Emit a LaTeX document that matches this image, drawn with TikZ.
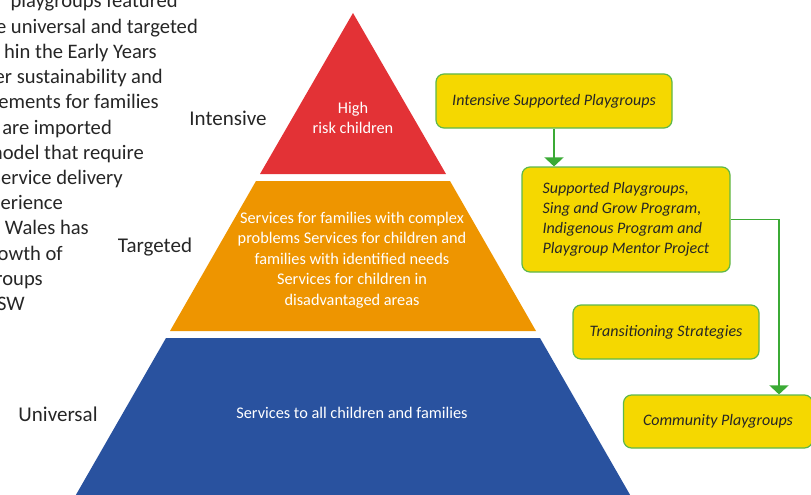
\documentclass[tikz,border=0pt]{standalone}
\usepackage{fontspec}
\setmainfont{Carlito}
\usetikzlibrary{arrows.meta}
\definecolor{pyrred}{HTML}{E33236}
\definecolor{pyrorange}{HTML}{EE9500}
\definecolor{pyrblue}{HTML}{29529F}
\definecolor{boxyellow}{HTML}{F5D800}
\definecolor{boxgreen}{HTML}{5DB84A}
\definecolor{arrowgreen}{HTML}{3BAA35}
\tikzset{
  sidelabel/.style={font=\fontsize{21}{25}\selectfont, text=black!85},
  introline/.style={anchor=base east, inner sep=0pt, font=\fontsize{20.6}{25}\selectfont, text=black!85},
  tiertext/.style={text=white, align=center, font=\fontsize{16.3}{20.5}\selectfont},
  pbox/.style={draw=boxgreen, line width=1.2pt, fill=boxyellow, rounded corners=8pt,
    font=\fontsize{16}{20}\selectfont\itshape, text=black!85},
  flow/.style={draw=arrowgreen, line width=1.4pt, -{Triangle[width=19pt,length=9pt]}}
}
\begin{document}
\begin{tikzpicture}[x=1pt,y=-1pt]
\useasboundingbox (0,0) rectangle (811,495);
\clip (0,0) rectangle (811,495);

% text running in from the left
\foreach \xend/\words [count=\i] in {178/playgroups featured, 198/e universal and targeted,
  157/hin the Early Years, 163/er sustainability and, 159/ements for families,
  112/are imported, 144/model that require, 123/service delivery, 63/perience,
  89/Wales has, 63/owth of, 43/roups, 25/SW}
  \node[introline] (intro\i) at (\xend,{8+25.2*(\i-1)}) {\words};

% pyramid
\fill[pyrred] (353,13) -- (260,174) -- (446,174) -- cycle;
\fill[pyrorange] (256,181) -- (450,181) -- (536,331) -- (170,331) -- cycle;
\fill[pyrblue] (166,338) -- (540,338) -- (633,500) -- (73,500) -- cycle;

\node[tiertext] (high) at (353,118) {High\\risk children};
\node[tiertext] (targ) at (352,260) {Services for families with complex\\problems Services for children and\\families with identified needs\\Services for children in\\disadvantaged areas};
\node[tiertext] (univ) at (352,413) {Services to all children and families};

\node[sidelabel] (intensive) at (228,118) {Intensive};
\node[sidelabel] (targeted) at (155,247) {Targeted};
\node[sidelabel] (universal) at (58,414) {Universal};

% programme boxes
\node[pbox, minimum width=236pt, minimum height=54pt] (box1) at (554,101) {Intensive Supported Playgroups};
\node[pbox, minimum width=208pt, minimum height=105pt, align=left] (box2) at (626,219.5)
  {Supported Playgroups,\\Sing and Grow Program,\\Indigenous Program and\\Playgroup Mentor Project};
\node[pbox, minimum width=186pt, minimum height=54pt] (box3) at (666,332) {Transitioning Strategies};
\node[pbox, minimum width=189pt, minimum height=53pt] (box4) at (718,421.5) {Community Playgroups};

\draw[flow] (box1.south) -- (box1.south |- box2.north);
\draw[flow] (box2.east) -| ([xshift=61pt]box4.north);
\end{tikzpicture}
\end{document}
